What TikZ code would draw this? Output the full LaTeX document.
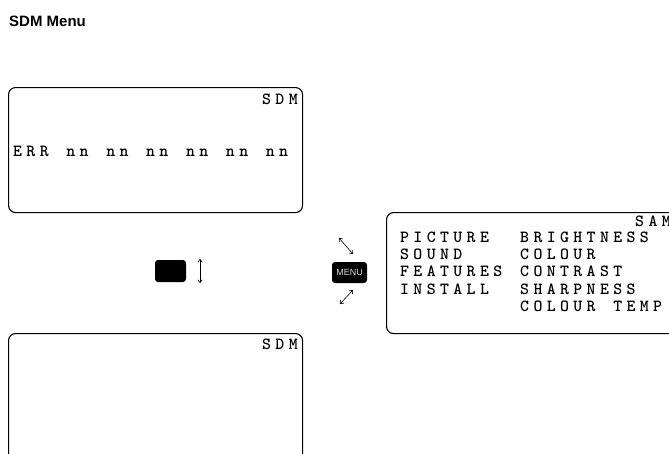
\documentclass[tikz,border=0pt]{standalone}
\usepackage{fontspec}
\setmainfont{Liberation Sans}
\newfontfamily\lcdfont{lmmonolt10-bold}[Extension=.otf]
\usetikzlibrary{positioning,arrows.meta}
% one character per cell, like the display grid
\ExplSyntaxOn
\NewDocumentCommand\lcd{m}{\str_map_inline:nn {#1} {\makebox[13.3pt][l]{##1}}}
\ExplSyntaxOff

\begin{document}
\begin{tikzpicture}[x=1pt, y=-1pt,
          screen/.style={draw, line width=1.1pt, rounded corners=7pt,
              anchor=north west, inner sep=0pt},
          lcdtext/.style={font=\lcdfont\fontsize{17}{18}\selectfont,
              anchor=base west, inner sep=0pt},
          key/.style={fill=black, rounded corners=3pt, inner sep=0pt},
          dbl/.style={{To[length=3.5pt,width=5pt]}-{To[length=3.5pt,width=5pt]}, line width=0.6pt}
        ]
        \useasboundingbox (0,0) rectangle (669,453);
        \clip (0,0) rectangle (669,453);
        \node[anchor=base west, inner sep=0pt, font=\bfseries\fontsize{15}{18}\selectfont] (title) at (9,26) {SDM Menu};
        % screens
        \node[screen, minimum width=294pt, minimum height=125pt] (errscreen)  at (8,87)   {};
        \node[screen, minimum width=294pt, minimum height=150pt] (sdmscreen)  at (8,333)  {};
        \node[screen, minimum width=310pt, minimum height=121pt] (menuscreen) at (386,212) {};
        % screen texts
        \node[lcdtext] (errtag) at (262,104.5) {\lcd{SDM}};
        \node[lcdtext] (errrow) at (13,156.5)  {\lcd{ERR nn nn nn nn nn nn}};
        \node[lcdtext] (sdmtag) at (262,349.5) {\lcd{SDM}};
        \node[lcdtext] (samtag) at (635,226.5) {\lcd{SAM}};
        \node[lcdtext] (picture)  at (400,242.5) {\lcd{PICTURE}};
        \node[lcdtext] (sound)    at (400,259.7) {\lcd{SOUND}};
        \node[lcdtext] (features) at (400,276.9) {\lcd{FEATURES}};
        \node[lcdtext] (install)  at (400,294.1) {\lcd{INSTALL}};
        \node[lcdtext] (bright)   at (520,242.5) {\lcd{BRIGHTNESS}};
        \node[lcdtext] (colour)   at (520,259.7) {\lcd{COLOUR}};
        \node[lcdtext] (contrast) at (520,276.9) {\lcd{CONTRAST}};
        \node[lcdtext] (sharp)    at (520,294.1) {\lcd{SHARPNESS}};
        \node[lcdtext] (temp)     at (520,311.3) {\lcd{COLOUR TEMP}};
        % keys
        \node[key, minimum width=31pt, minimum height=22pt] (blankkey) at (170.5,271) {};
        \node[key, minimum width=35pt, minimum height=21pt, text=white!85!black,
              font=\fontsize{9}{10}\selectfont] (menukey) at (349.5,272.5) {MENU};
        \coordinate (vtop) at (200,259);
        \coordinate (vbot) at (200,283);
        \coordinate (ultop) at (339,238);
        \coordinate (ulbot) at (353,254);
        \coordinate (lltop) at (353,290);
        \coordinate (llbot) at (340,304);
        \draw[dbl] (vtop)  -- (vbot);
        \draw[dbl] (ultop) -- (ulbot);
        \draw[dbl] (llbot) -- (lltop);
      \end{tikzpicture}
\end{document}
